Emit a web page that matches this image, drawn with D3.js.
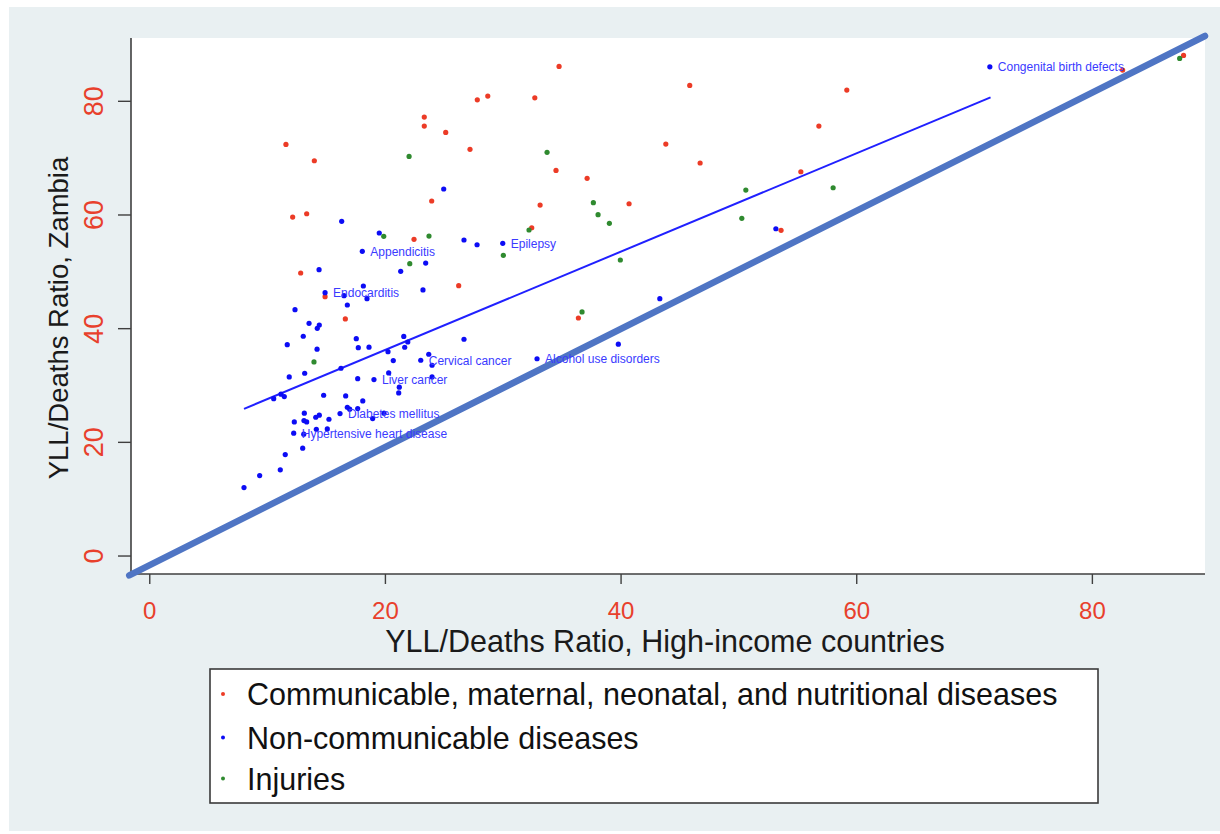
<!DOCTYPE html>
<html>
<head>
<meta charset="utf-8">
<script src="https://cdn.jsdelivr.net/npm/d3@7"></script>
<style>
  html, body { margin: 0; padding: 0; background: #ffffff; }
  svg { display: block; font-family: "Liberation Sans", Arial, Helvetica, sans-serif; }
</style>
</head>
<body>
<svg id="chart" width="1220" height="834"></svg>
<script>
// Series names (legend order)
const categories = [
  "Communicable, maternal, neonatal, and nutritional diseases",
  "Non-communicable diseases",
  "Injuries"
];

// Communicable, maternal, neonatal, and nutritional diseases
const cmnnX = [34.78, 32.72, 28.73, 27.84, 23.34, 23.34, 25.16, 11.60, 14.01, 27.22, 34.52,
  37.16, 23.97, 33.17, 40.72, 12.17, 13.36, 22.47, 32.46, 12.85, 26.26, 14.92, 16.64, 36.42,
  45.87, 59.20, 56.83, 43.84, 46.75, 55.30, 53.62, 82.61, 87.78];
const cmnnY = [86.05, 80.53, 80.83, 80.18, 77.13, 75.55, 74.44, 72.33, 69.45, 71.46, 67.76,
  66.36, 62.37, 61.66, 61.89, 59.55, 60.13, 55.63, 57.67, 49.71, 47.47, 45.54, 41.62, 41.79,
  82.71, 81.88, 75.55, 72.39, 69.06, 67.52, 57.21, 85.40, 87.98];

// Non-communicable diseases
const ncdX = [24.99, 16.33, 19.52, 26.71, 27.82, 30.00, 18.08, 23.46, 21.34, 14.41, 18.17,
  23.23, 14.92, 16.53, 18.48, 16.81, 12.37, 13.56, 14.43, 14.26, 13.07, 11.71, 17.57, 21.60,
  21.94, 21.68, 17.74, 18.65, 14.24, 26.71, 39.81, 20.26, 23.72, 23.04, 24.00, 20.71, 32.91,
  11.88, 13.19, 16.27, 20.32, 17.69, 19.07, 24.00, 21.22, 21.17, 10.56, 11.18, 11.46, 14.80,
  16.67, 18.12, 16.81, 17.01, 17.69, 13.16, 14.43, 14.13, 16.19, 19.92, 18.96, 12.31, 13.13,
  13.36, 15.25, 14.18, 15.11, 12.26, 13.11, 13.02, 11.54, 9.37, 11.12, 8.04, 53.18, 43.33, 71.34];
const ncdY = [64.48, 58.80, 56.74, 55.51, 54.68, 54.93, 53.52, 51.46, 50.00, 50.29, 47.42,
  46.72, 46.24, 45.71, 45.19, 44.08, 43.25, 40.86, 40.56, 39.98, 38.58, 37.10, 38.15, 38.54,
  37.57, 36.64, 36.57, 36.66, 36.31, 38.05, 37.19, 35.87, 35.41, 34.36, 33.48, 34.29, 34.62,
  31.42, 32.07, 32.95, 32.12, 31.12, 30.95, 31.42, 29.61, 28.61, 27.60, 28.38, 27.96, 28.20,
  28.08, 27.20, 26.09, 25.74, 25.85, 25.04, 24.69, 24.33, 24.97, 25.04, 24.09, 23.51, 23.74,
  23.51, 23.98, 22.22, 22.28, 21.52, 21.35, 18.88, 17.76, 14.07, 15.07, 11.96, 57.49, 45.19, 85.98];

// Injuries
const injX = [22.05, 33.76, 37.69, 38.09, 39.05, 32.23, 19.90, 23.74, 30.05, 39.98, 22.11,
  36.73, 13.98, 50.63, 58.04, 50.29, 87.45];
const injY = [70.22, 70.93, 62.07, 59.96, 58.44, 57.27, 56.16, 56.21, 52.82, 51.99, 51.34,
  42.85, 34.06, 64.30, 64.70, 59.32, 87.46];

// Named non-communicable causes
const labelNames = ["Congenital birth defects", "Epilepsy", "Appendicitis", "Endocarditis",
  "Cervical cancer", "Alcohol use disorders", "Liver cancer", "Diabetes mellitus",
  "Hypertensive heart disease"];
const labelX = [71.34, 30.00, 18.08, 14.92, 23.04, 32.91, 19.07, 16.19, 12.26];
const labelY = [85.98, 54.93, 53.52, 46.24, 34.36, 34.62, 30.95, 24.97, 21.52];

// Linear fit of the non-communicable group
const fitX = [8.04, 71.40];
const fitY = [25.80, 80.60];

// Equality reference line
const refX = [-1.70, 89.60];
const refY = [-3.50, 91.40];

// Axis ticks
const xTicks = [0, 20, 40, 60, 80];
const yTicks = [0, 20, 40, 60, 80];

const seriesColors = ["#ec3b26", "#0c0cf5", "#2f8a2f"];

const svg = d3.select("#chart");

// Graph region background
svg.append("rect").attr("x", 9).attr("y", 7).attr("width", 1211).attr("height", 824)
  .attr("fill", "#e9f0f2");

const plot = { left: 131, right: 1205, top: 38, bottom: 574 };

svg.append("rect")
  .attr("x", plot.left).attr("y", plot.top)
  .attr("width", plot.right - plot.left).attr("height", plot.bottom - plot.top)
  .attr("fill", "#ffffff");

const x = d3.scaleLinear().domain([-1.55, 89.6]).range([plot.left, plot.right]);
const y = d3.scaleLinear().domain([-3.25, 91.05]).range([plot.bottom, plot.top]);

// Axes
const yAxis = svg.append("g")
  .attr("transform", `translate(${plot.left},0)`)
  .call(d3.axisLeft(y).tickValues(yTicks).tickSize(13).tickFormat(d3.format("d")));
const xAxis = svg.append("g")
  .attr("transform", `translate(0,${plot.bottom})`)
  .call(d3.axisBottom(x).tickValues(xTicks).tickSize(10).tickFormat(d3.format("d")));

[xAxis, yAxis].forEach(g => {
  g.select(".domain").attr("stroke", "#3f3f3f").attr("stroke-width", 1.6);
  g.selectAll(".tick line").attr("stroke", "#3f3f3f").attr("stroke-width", 1.4);
  g.selectAll(".tick text").attr("fill", "#e8402c").attr("font-family", "Liberation Sans, Arial, sans-serif");
});
// Domain lines without the outer tick stubs
yAxis.select(".domain").attr("d", `M0,${plot.top}V${plot.bottom}`);
xAxis.select(".domain").attr("d", `M${plot.left},0H${plot.right}`);

yAxis.selectAll(".tick text")
  .attr("x", null).attr("dy", null)
  .attr("text-anchor", "middle")
  .attr("font-size", 27)
  .attr("transform", "translate(-28,0) rotate(-90)");

xAxis.selectAll(".tick text")
  .attr("y", 45).attr("dy", null)
  .attr("font-size", 24);

// Axis titles
svg.append("text")
  .attr("transform", "translate(68,318) rotate(-90)")
  .attr("text-anchor", "middle")
  .attr("font-size", 27.5)
  .attr("fill", "#1a1a1a")
  .text("YLL/Deaths Ratio, Zambia");

svg.append("text")
  .attr("x", 665).attr("y", 652)
  .attr("text-anchor", "middle")
  .attr("font-size", 30.5)
  .attr("fill", "#1a1a1a")
  .text("YLL/Deaths Ratio, High-income countries");

// Reference and fitted lines
const line = d3.line().x(d => x(d[0])).y(d => y(d[1]));

svg.append("path")
  .datum(d3.zip(refX, refY))
  .attr("d", line)
  .attr("fill", "none")
  .attr("stroke", "#4f75c4")
  .attr("stroke-width", 6.5)
  .attr("stroke-linecap", "round");

svg.append("path")
  .datum(d3.zip(fitX, fitY))
  .attr("d", line)
  .attr("fill", "none")
  .attr("stroke", "#2020ff")
  .attr("stroke-width", 2);

// Scatter points
const groups = [
  d3.zip(cmnnX, cmnnY),
  d3.zip(ncdX, ncdY),
  d3.zip(injX, injY)
];

groups.forEach((pts, i) => {
  svg.append("g")
    .selectAll("circle")
    .data(pts)
    .join("circle")
    .attr("cx", d => x(d[0]))
    .attr("cy", d => y(d[1]))
    .attr("r", 2.6)
    .attr("fill", seriesColors[i]);
});

// Cause labels
svg.append("g")
  .selectAll("text")
  .data(d3.zip(labelNames, labelX, labelY))
  .join("text")
  .attr("x", d => x(d[1]) + 8)
  .attr("y", d => y(d[2]))
  .attr("dy", "0.36em")
  .attr("font-size", 12)
  .attr("fill", "#3a3aff")
  .text(d => d[0]);

// Legend
const legend = svg.append("g");
legend.append("rect")
  .attr("x", 210).attr("y", 669).attr("width", 888).attr("height", 134)
  .attr("fill", "#ffffff").attr("stroke", "#3a3a3a").attr("stroke-width", 1.6);

const legendRows = [694, 737.5, 778.5];
categories.forEach((c, i) => {
  legend.append("circle")
    .attr("cx", 223).attr("cy", legendRows[i]).attr("r", 2)
    .attr("fill", seriesColors[i]);
  legend.append("text")
    .attr("x", 247).attr("y", legendRows[i] + 11)
    .attr("font-size", 30.5)
    .attr("fill", "#111111")
    .text(c);
});
</script>
</body>
</html>
